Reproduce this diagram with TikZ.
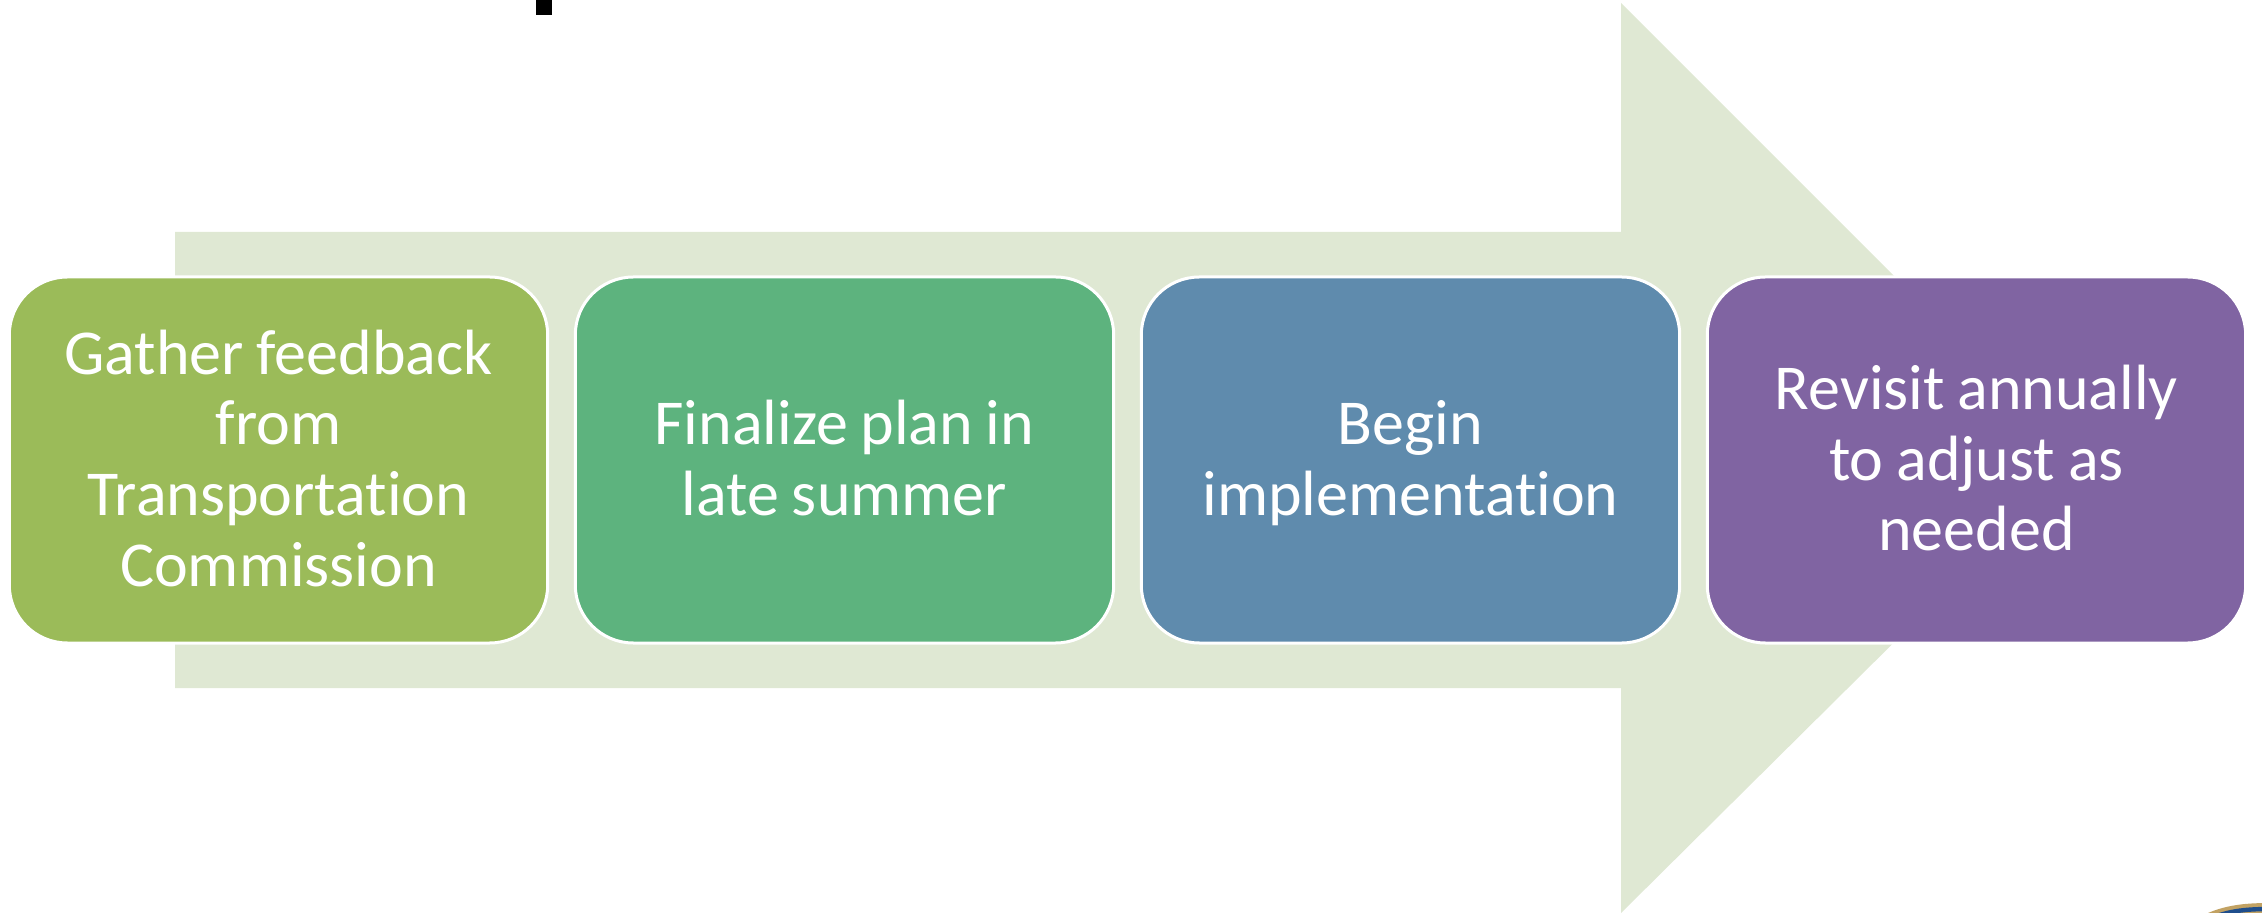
\documentclass[tikz,border=0pt]{standalone}
\usepackage{fontspec}
\setmainfont[Ligatures=NoCommon]{Carlito}
\usetikzlibrary{matrix}
\definecolor{arrowgreen}{HTML}{DFE8D3}
\definecolor{stepgreen}{HTML}{9BBB59}
\definecolor{stepteal}{HTML}{5DB37E}
\definecolor{stepblue}{HTML}{5F8BAD}
\definecolor{steppurple}{HTML}{8064A2}
\definecolor{logogold}{HTML}{C2A263}
\definecolor{logoblue}{HTML}{1F4E8C}
\tikzset{
  stepbox/.style={draw=white, line width=1.5pt, rounded corners=29pt, text=white,
    minimum width=269.2pt, minimum height=183pt, text width=250pt, inner sep=0pt,
    outer sep=0pt, anchor=center, align=center, font=\fontsize{32}{35.3}\selectfont,
    execute at begin node={\spaceskip=.2em\rule{0pt}{30.7pt}},
    execute at end node=\strut}
}

\begin{document}
\begin{tikzpicture}[x=.5pt,y=-.5pt]
        \useasboundingbox (0,0) rectangle (2262,913);
        \fill[arrowgreen] (175,232) -- (1621,232) -- (1621,3) -- (2078,460)
          -- (1621,913) -- (1621,688) -- (175,688) -- cycle;

        \matrix(m) at (1127.5,460) [matrix of nodes, column sep=12.3pt, nodes={stepbox}]{
          |[fill=stepgreen]| {Gather feedback\\from\\Transportation\\Commission} &
          |[fill=stepteal]| {Finalize plan in\\late summer} &
          |[fill=stepblue]| {Begin\\implementation} &
          |[fill=steppurple]| {Revisit annually\\to adjust as\\needed} \\};

        % bits of the slide around the picture
        \fill (536,0) rectangle (552,15);
        \draw[logogold, line width=6pt] (2205,921) .. controls (2225,911) and (2245,909) .. (2270,909);
        \draw[logoblue, line width=2.2pt] (2205,921) .. controls (2225,911) and (2245,909) .. (2270,909);
      \end{tikzpicture}
\end{document}
